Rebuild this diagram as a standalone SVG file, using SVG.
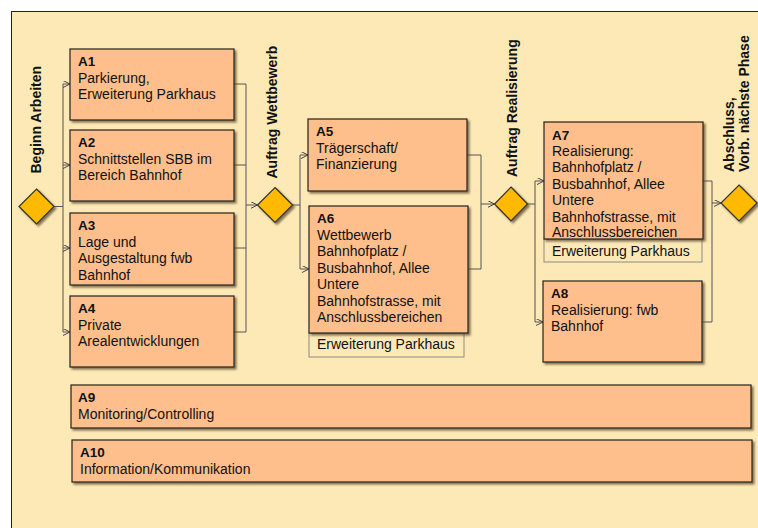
<svg xmlns="http://www.w3.org/2000/svg" width="758" height="528" viewBox="0 0 758 528">
<defs>
<filter id="sh" x="-10%" y="-10%" width="130%" height="140%">
<feGaussianBlur in="SourceAlpha" stdDeviation="1.3" result="b"/>
<feOffset in="b" dx="1.8" dy="1.8" result="o"/>
<feFlood flood-color="#5a4a30" flood-opacity="0.75"/>
<feComposite in2="o" operator="in" result="s"/>
<feMerge><feMergeNode in="s"/><feMergeNode in="SourceGraphic"/></feMerge>
</filter>
<marker id="arr" markerWidth="9" markerHeight="9" refX="7" refY="3.5" orient="auto" markerUnits="userSpaceOnUse">
<path d="M0,0 L7,3.5 L0,7" fill="none" stroke="#444" stroke-width="1"/>
</marker>
</defs>
<style>
text{font-family:"Liberation Sans",Arial,sans-serif;fill:#111;}
.t{font-size:14px;}
.b{font-size:13.5px;font-weight:bold;}
.lab{font-size:14px;font-weight:bold;}
.box{fill:#FFBF8C;stroke:#222;stroke-width:1.2;filter:url(#sh);}
.sub{fill:#FDE9B8;stroke:#8a8a80;stroke-width:1;}
.dia{fill:#FFBA00;stroke:#333;stroke-width:1.2;filter:url(#sh);}
.c{fill:none;stroke:#555;stroke-width:1;}
</style>
<rect x="11.5" y="11.5" width="760" height="530" fill="#FDE9B6" stroke="#222" stroke-width="1"/>

<g id="connectors">
<path class="c" d="M54,206.5 H63 M63,84 V332 M234,84 H246 M234,165 H246 M234,248 H246 M234,332 H246 M246,84 V332 M292.5,205 H300 M300,155 V269 M467,155 H481 M468,269 H481 M481,155 V269 M527.5,204 H535 M535,181 V322 M703,181 H712 M702,322 H712 M712,181 V322"/>
<path class="c" marker-end="url(#arr)" d="M63,84 H70"/>
<path class="c" marker-end="url(#arr)" d="M63,165 H70"/>
<path class="c" marker-end="url(#arr)" d="M63,248 H70"/>
<path class="c" marker-end="url(#arr)" d="M63,332 H70"/>
<path class="c" marker-end="url(#arr)" d="M246,205 H257.5"/>
<path class="c" marker-end="url(#arr)" d="M300,155 H308"/>
<path class="c" marker-end="url(#arr)" d="M300,269 H309"/>
<path class="c" marker-end="url(#arr)" d="M481,204 H494.5"/>
<path class="c" marker-end="url(#arr)" d="M535,181 H544"/>
<path class="c" marker-end="url(#arr)" d="M535,322 H543"/>
<path class="c" marker-end="url(#arr)" d="M712,203 H721"/>
</g>

<g id="start">
<polygon class="dia" points="36.5,189 54,206.5 36.5,224 19,206.5"/>
<text class="lab" transform="translate(41,173.5) rotate(-90)">Beginn Arbeiten</text>
</g>
<g id="wettbewerb">
<polygon class="dia" points="275,187.5 292.5,205 275,222.5 257.5,205"/>
<text class="lab" transform="translate(276.5,178.5) rotate(-90)">Auftrag Wettbewerb</text>
</g>
<g id="realisierung">
<polygon class="dia" points="511,187 527.5,204 511,221 494.5,204"/>
<text class="lab" transform="translate(516.5,177) rotate(-90)">Auftrag Realisierung</text>
</g>
<g id="abschluss">
<polygon class="dia" points="739,185 757,203 739,221 721,203"/>
<text class="lab" transform="translate(733.5,172) rotate(-90)">Abschluss,</text>
<text class="lab" transform="translate(748.5,172) rotate(-90)">Vorb. nächste Phase</text>
</g>

<g id="A1">
<rect class="box" x="70" y="49" width="164" height="71"/>
<text x="78" y="66" class="b">A1</text>
<text x="78" y="82.5" class="t">Parkierung,</text>
<text x="78" y="99" class="t">Erweiterung Parkhaus</text>
</g>
<g id="A2">
<rect class="box" x="70" y="130" width="164" height="71"/>
<text x="78" y="147" class="b">A2</text>
<text x="78" y="163.5" class="t">Schnittstellen SBB im</text>
<text x="78" y="180" class="t">Bereich Bahnhof</text>
</g>
<g id="A3">
<rect class="box" x="70" y="213" width="164" height="72"/>
<text x="78" y="230" class="b">A3</text>
<text x="78" y="246.5" class="t">Lage und</text>
<text x="78" y="263" class="t">Ausgestaltung fwb</text>
<text x="78" y="279.5" class="t">Bahnhof</text>
</g>
<g id="A4">
<rect class="box" x="70" y="296" width="164" height="71"/>
<text x="78" y="313" class="b">A4</text>
<text x="78" y="329.5" class="t">Private</text>
<text x="78" y="346" class="t">Arealentwicklungen</text>
</g>
<g id="A5">
<rect class="box" x="308" y="119" width="159" height="72"/>
<text x="316" y="136" class="b">A5</text>
<text x="316" y="152.5" class="t">Trägerschaft/</text>
<text x="316" y="169" class="t">Finanzierung</text>
</g>
<g id="A6">
<rect class="sub" x="309" y="333" width="155" height="24"/>
<text x="317" y="348.5" class="t">Erweiterung Parkhaus</text>
<rect class="box" x="309" y="206" width="159" height="127"/>
<text x="317" y="223" class="b">A6</text>
<text x="317" y="239.5" class="t">Wettbewerb</text>
<text x="317" y="256" class="t">Bahnhofplatz /</text>
<text x="317" y="272.5" class="t">Busbahnhof, Allee</text>
<text x="317" y="289" class="t">Untere</text>
<text x="317" y="305.5" class="t">Bahnhofstrasse, mit</text>
<text x="317" y="322" class="t">Anschlussbereichen</text>
</g>
<g id="A7">
<rect class="sub" x="544" y="239" width="158" height="23"/>
<text x="552" y="256" class="t">Erweiterung Parkhaus</text>
<rect class="box" x="544" y="122" width="159" height="117"/>
<text x="552" y="139.5" class="b">A7</text>
<text x="552" y="155.5" class="t">Realisierung:</text>
<text x="552" y="172" class="t">Bahnhofplatz /</text>
<text x="552" y="188.5" class="t">Busbahnhof, Allee</text>
<text x="552" y="205" class="t">Untere</text>
<text x="552" y="221.5" class="t">Bahnhofstrasse, mit</text>
<text x="552" y="237" class="t">Anschlussbereichen</text>
</g>
<g id="A8">
<rect class="box" x="543" y="281" width="159" height="81"/>
<text x="551" y="298" class="b">A8</text>
<text x="551" y="314.5" class="t">Realisierung: fwb</text>
<text x="551" y="331" class="t">Bahnhof</text>
</g>
<g id="A9">
<rect class="box" x="71" y="385" width="680" height="43"/>
<text x="78" y="402" class="b">A9</text>
<text x="78" y="419" class="t">Monitoring/Controlling</text>
</g>
<g id="A10">
<rect class="box" x="72" y="440" width="680" height="42"/>
<text x="80" y="457" class="b">A10</text>
<text x="80" y="474" class="t">Information/Kommunikation</text>
</g>
</svg>
